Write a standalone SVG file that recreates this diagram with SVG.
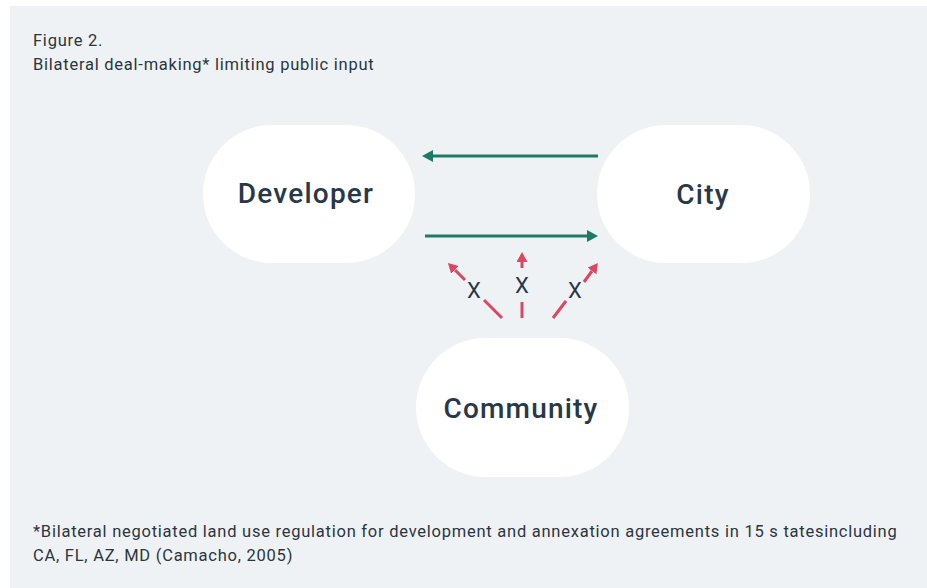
<svg xmlns="http://www.w3.org/2000/svg" width="927" height="588" viewBox="0 0 927 588">
<defs>
<style>
.bg{fill:#ffffff}
.panel{fill:#eff2f5}
.node{fill:#ffffff}
.lbl{font-family:Roboto,"Liberation Sans",sans-serif;font-weight:500;font-size:28px;letter-spacing:1.2px;fill:#283848;text-anchor:middle}
.cap{font-family:Roboto,"Liberation Sans",sans-serif;font-size:16.5px;letter-spacing:0.75px;fill:#2b3540}
.x{font-family:Roboto,"Liberation Sans",sans-serif;font-size:22px;fill:#283848;text-anchor:middle}
.g{stroke:#1e7a66;stroke-width:3;fill:none}
.r{stroke:#dc4660;stroke-width:3;fill:none}
</style>
<marker id="ag" markerUnits="userSpaceOnUse" markerWidth="11" markerHeight="12" refX="0" refY="6" orient="auto"><path d="M0,0 L11,6 L0,12 z" fill="#1e7a66"/></marker>
<marker id="ar" markerUnits="userSpaceOnUse" markerWidth="10" markerHeight="11" refX="0" refY="5.5" orient="auto"><path d="M0,0 L10,5.5 L0,11 z" fill="#dc4660"/></marker>
</defs>
<rect class="bg" x="0" y="0" width="927" height="588"/>
<rect class="panel" x="10" y="6" width="917" height="582"/>
<text class="cap" x="33" y="46">Figure 2.</text>
<text class="cap" x="33" y="70">Bilateral deal-making* limiting public input</text>
<g id="connectors">
<line class="g" x1="598" y1="156" x2="433" y2="156" marker-end="url(#ag)"/>
<line class="g" x1="425" y1="236" x2="587" y2="236" marker-end="url(#ag)"/>
<line class="r" x1="502" y1="318" x2="484" y2="300"/>
<line class="r" x1="465" y1="280" x2="455" y2="270" marker-end="url(#ar)"/>
<text class="x" x="474" y="298">X</text>
<line class="r" x1="522" y1="318" x2="522" y2="302"/>
<line class="r" x1="522" y1="268" x2="522" y2="262" marker-end="url(#ar)"/>
<text class="x" x="522" y="293">X</text>
<line class="r" x1="553" y1="318" x2="566" y2="301"/>
<line class="r" x1="584" y1="282" x2="592" y2="271" marker-end="url(#ar)"/>
<text class="x" x="575" y="298">X</text>
</g>
<g id="developer">
<rect class="node" x="203" y="125" width="212" height="138" rx="69"/>
<text class="lbl" x="306" y="203">Developer</text>
</g>
<g id="city">
<rect class="node" x="597" y="125" width="213" height="138" rx="69"/>
<text class="lbl" x="703" y="204">City</text>
</g>
<g id="community">
<rect class="node" x="416" y="338" width="213" height="139" rx="69.5"/>
<text class="lbl" x="521" y="418">Community</text>
</g>
<text class="cap" x="33" y="537">*Bilateral negotiated land use regulation for development and annexation agreements in 15 s tatesincluding</text>
<text class="cap" x="33" y="561">CA, FL, AZ, MD (Camacho, 2005)</text>
</svg>
